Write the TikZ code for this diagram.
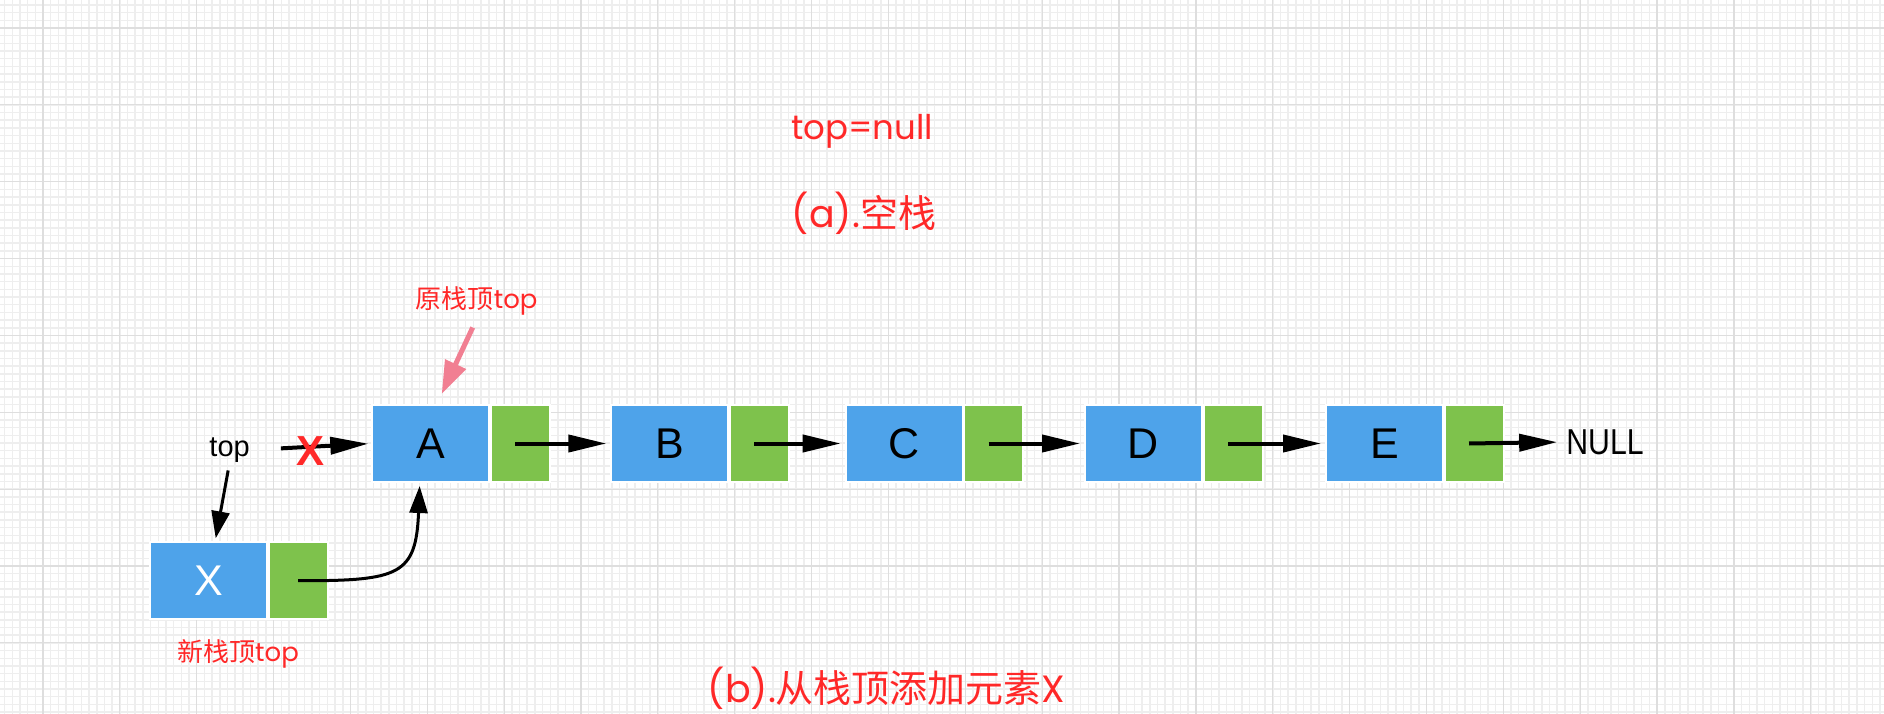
\documentclass[tikz,border=0pt]{standalone}
\usepackage{fontspec}
\setmainfont{Liberation Sans}
\newfontfamily\cjk{Noto Sans CJK SC}
\newfontfamily\lat{Poppins}
\usetikzlibrary{arrows.meta}
\definecolor{nodeblue}{RGB}{78,163,234}
\definecolor{nodegreen}{RGB}{126,194,76}
\definecolor{lblred}{RGB}{255,40,40}
\definecolor{pinkarr}{RGB}{241,127,146}
\definecolor{gridminor}{RGB}{238,238,238}
\definecolor{gridmajor}{RGB}{222,222,222}
\begin{document}
\begin{tikzpicture}[x=1pt,y=-1pt,
  bluebox/.style={rectangle, fill=nodeblue, draw=white, line width=2pt,
    minimum width=117pt, minimum height=77pt, inner sep=0pt, outer sep=0pt,
    font=\fontsize{43}{43}\selectfont},
  greenbox/.style={rectangle, fill=nodegreen, draw=white, line width=2pt,
    minimum width=59pt, minimum height=77pt, inner sep=0pt, outer sep=0pt, anchor=west},
  ptr/.style={draw=black, line width=4pt, -{Triangle[length=38pt,width=17pt]}},
  thinptr/.style={draw=black, line width=3pt, -{Triangle[length=27pt,width=18pt]}},
  pinkptr/.style={draw=pinkarr, line width=5pt, -{Triangle[length=33pt,width=22pt]}},
  redlbl/.style={text=lblred, inner sep=0pt},
  minorline/.style={draw=gridminor, line width=1.5pt},
  majorline/.style={draw=gridmajor, line width=1.2pt}
]
\useasboundingbox (0,0) rectangle (1884,714);
\fill[white] (0,0) rectangle (1884,714);
% grid
\foreach \i in {0,...,244} { \draw[minorline] ({4.57+7.686*\i},0) -- ++(0,714); }
\foreach \j in {0,...,92} { \draw[minorline] (0,{4.94+7.686*\j}) -- ++(1884,0); }
\foreach \i in {0,...,23} { \draw[majorline] ({43+76.86*\i},0) -- ++(0,714); }
\foreach \j in {0,...,8} { \draw[majorline] (0,{28+76.86*\j}) -- ++(1884,0); }

% titles
\node[redlbl, font=\fontsize{34}{34}\lat] (tnull) at (862,131.5) {top=null};
\node[redlbl, font=\fontsize{38}{38}\selectfont] (capa) at (864,213.5) {{\lat (a).}{\cjk 空栈}};
\node[redlbl, font=\fontsize{38}{38}\selectfont] (capb) at (886.7,688) {{\lat (b).}{\cjk 从栈顶添加元素}{\lat X}};

% list nodes
\node[bluebox] (A) at (430.8,443.5) {A};
\node[greenbox] (Ag) at ([xshift=1.5pt]A.east) {};
\node[bluebox] (B) at (669.8,443.5) {B};
\node[greenbox] (Bg) at ([xshift=1.5pt]B.east) {};
\node[bluebox] (C) at (904.2,443.5) {C};
\node[greenbox] (Cg) at ([xshift=1.5pt]C.east) {};
\node[bluebox] (D) at (1143.5,443.5) {D};
\node[greenbox] (Dg) at ([xshift=1.5pt]D.east) {};
\node[bluebox] (E) at (1384.5,443.5) {E};
\node[greenbox] (Eg) at ([xshift=1.5pt]E.east) {};
\node[inner sep=0pt, font=\fontsize{36}{36}\selectfont] (null) at (1605,442) {\scalebox{0.84}[1]{NULL}};

\node[bluebox, text=white] (X) at (208.5,580.7) {X};
\node[greenbox] (Xg) at ([xshift=1.5pt]X.east) {};

\node[inner sep=0pt, font=\fontsize{29}{29}\selectfont] (top) at (229.6,450) {top};

% labels
\node[redlbl, font=\fontsize{26}{26}\selectfont] (orig) at (476.7,301) {{\cjk 原栈顶}{\lat top}};
\node[redlbl, font=\fontsize{26}{26}\selectfont] (newt) at (238,654) {{\cjk 新栈顶}{\lat top}};

% connectors
\draw[ptr, shorten >=5pt] ([xshift=-5pt]Ag.center) -- (B.west);
\draw[ptr, shorten >=5pt] ([xshift=-5pt]Bg.center) -- (C.west);
\draw[ptr, shorten >=5pt] ([xshift=-5pt]Cg.center) -- (D.west);
\draw[ptr, shorten >=5pt] ([xshift=-5pt]Dg.center) -- (E.west);
\draw[ptr, shorten >=9pt] ([xshift=-5pt]Eg.center) -- (null.west);

\draw[ptr, shorten <=31pt, shorten >=4pt] (top.east) -- (A.west);
\node[redlbl, font=\fontsize{42}{42}\bfseries] (cross) at (310.5,451.5) {X};

\draw[thinptr, shorten <=8pt, shorten >=4pt] (top.south) -- ([xshift=6.5pt]X.north);
\draw[thinptr, shorten >=4pt] (Xg.center) .. controls (400,581) and (416,575) .. ([xshift=-11pt]A.south);

\coordinate (pinktip) at (441.7,394);
\draw[pinkptr] ([xshift=-4pt,yshift=-12pt]orig.south) -- (pinktip);
\end{tikzpicture}
\end{document}
